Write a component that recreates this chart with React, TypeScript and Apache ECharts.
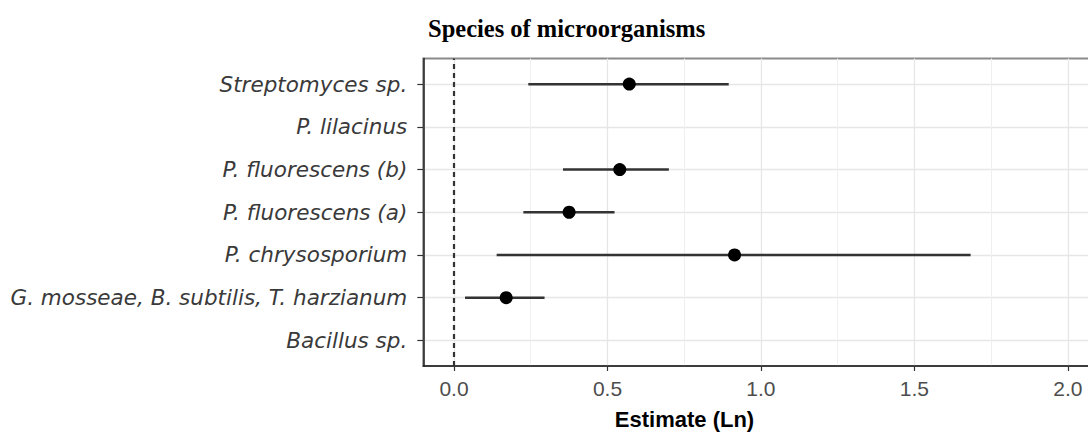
import React, { useEffect, useRef } from "react";
import * as echarts from "echarts";

// Categories listed bottom-to-top (ECharts category order)
const categories: string[] = [
  "Bacillus sp.",
  "G. mosseae, B. subtilis, T. harzianum",
  "P. chrysosporium",
  "P. fluorescens (a)",
  "P. fluorescens (b)",
  "P. lilacinus",
  "Streptomyces sp.",
];
const estimates: (number | null)[] = [null, 0.17, 0.914, 0.375, 0.54, null, 0.571];
const lowerCI: (number | null)[] = [null, 0.036, 0.139, 0.226, 0.355, null, 0.242];
const upperCI: (number | null)[] = [null, 0.295, 1.683, 0.523, 0.7, null, 0.895];
const xTicks: number[] = [0, 0.5, 1, 1.5, 2];
const xMinorTicks: number[] = [0.25, 0.75, 1.25, 1.75, 2.25];
const xMin = -0.1;
const xMax = 2.3;
const titleText = "Species of microorganisms";
const xAxisTitle = "Estimate (Ln)";

export default function App() {
  const ref = useRef<HTMLDivElement>(null);

  useEffect(() => {
    if (!ref.current) return;
    const chart = echarts.init(ref.current, null, { renderer: "svg" });

    const barData: number[][] = [];
    const pointData: number[][] = [];
    categories.forEach((_, i) => {
      const e = estimates[i];
      const lo = lowerCI[i];
      const hi = upperCI[i];
      if (e != null && lo != null && hi != null) {
        barData.push([lo, hi, i + 1]);
        pointData.push([e, i + 1]);
      }
    });

    const option: any = {
      animation: false,
      backgroundColor: "#ffffff",
      title: {
        text: titleText,
        left: 428,
        top: 16,
        padding: 0,
        textStyle: {
          fontFamily: "Liberation Serif",
          fontWeight: "bold",
          fontSize: 24.5,
          color: "#000000",
        },
      },
      graphic: [
        {
          type: "text",
          x: 684.5,
          y: 419.5,
          style: {
            text: xAxisTitle,
            align: "center",
            verticalAlign: "middle",
            fontFamily: "Liberation Sans",
            fontWeight: "bold",
            fontSize: 22,
            fill: "#000000",
          },
        },
      ],
      grid: [
        {
          left: 423.3,
          right: -72,
          top: 58.5,
          bottom: 73,
          outerBoundsMode: "none",
          containLabel: false,
          show: true,
          borderColor: "#8a8a8a",
          borderWidth: 2,
          backgroundColor: "transparent",
        },
        {
          left: 423.3,
          right: -72,
          top: 84.1,
          bottom: 98.6,
          outerBoundsMode: "none",
          containLabel: false,
          show: false,
        },
      ],
      xAxis: [
        {
          gridIndex: 0,
          type: "value",
          min: xMin,
          max: xMax,
          position: "bottom",
          axisLine: { show: true, onZero: false, lineStyle: { color: "#222222", width: 1.5 } },
          axisTick: { show: true, length: 5, customValues: xTicks, lineStyle: { color: "#333333", width: 1.2 } },
          axisLabel: {
            customValues: xTicks,
            formatter: (v: number) => v.toFixed(1),
            fontFamily: "Liberation Sans",
            fontSize: 21,
            color: "#4d4d4d",
            margin: 12,
          },
          splitLine: { show: true, lineStyle: { color: "#e6e6e6", width: 1.3 } },
        },
        {
          gridIndex: 0,
          type: "value",
          min: xMin,
          max: xMax,
          position: "top",
          axisLine: { show: false, onZero: false },
          axisTick: { show: false, customValues: xMinorTicks },
          axisLabel: { show: false, customValues: xMinorTicks },
          splitLine: { show: true, lineStyle: { color: "#efefef", width: 1 } },
        },
        {
          gridIndex: 1,
          type: "value",
          min: xMin,
          max: xMax,
          show: false,
        },
      ],
      yAxis: [
        {
          gridIndex: 0,
          type: "value",
          min: 0.4,
          max: 7.6,
          axisLine: { show: true, onZero: false, lineStyle: { color: "#222222", width: 1.5 } },
          axisTick: { show: false },
          axisLabel: { show: false },
          splitLine: { show: false },
        },
        {
          gridIndex: 1,
          type: "category",
          data: categories,
          boundaryGap: false,
          axisLine: { show: false, onZero: false },
          axisTick: { show: true, length: 6, lineStyle: { color: "#333333", width: 1.2 } },
          axisLabel: {
            fontFamily: "DejaVu Sans",
            fontStyle: "italic",
            fontSize: 21.5,
            color: "#3a3a3a",
            margin: 16,
          },
          splitLine: { show: true, lineStyle: { color: "#e6e6e6", width: 1.3 } },
        },
      ],
      series: [
        {
          type: "custom",
          xAxisIndex: 0,
          yAxisIndex: 0,
          data: barData,
          encode: { x: [0, 1], y: 2 },
          renderItem: (params: any, api: any) => {
            const y = api.value(2);
            const p1 = api.coord([api.value(0), y]);
            const p2 = api.coord([api.value(1), y]);
            return {
              type: "line",
              shape: { x1: p1[0], y1: p1[1], x2: p2[0], y2: p2[1] },
              style: { stroke: "#333333", lineWidth: 2.5 },
            };
          },
          z: 3,
        },
        {
          type: "scatter",
          xAxisIndex: 0,
          yAxisIndex: 0,
          data: pointData,
          symbol: "circle",
          symbolSize: 13,
          itemStyle: { color: "#000000", opacity: 1 },
          z: 4,
          markLine: {
            silent: true,
            symbol: ["none", "none"],
            label: { show: false },
            lineStyle: { color: "#333333", type: [5, 4], width: 2.2, opacity: 1 },
            data: [{ xAxis: 0 }],
          },
        },
      ],
    };

    chart.setOption(option);
    return () => {
      chart.dispose();
    };
  }, []);

  return (
    <div
      ref={ref}
      style={{ position: "fixed", left: 0, top: 0, width: 1088, height: 439, background: "#ffffff" }}
    />
  );
}
